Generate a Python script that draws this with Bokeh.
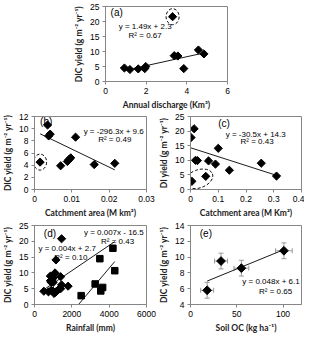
from bokeh.plotting import figure
from bokeh.layouts import column, row
from bokeh.models import Spacer, FixedTicker, Label, Whisker, ColumnDataSource, Range1d, TeeHead
from bokeh.embed import file_html
from bokeh.resources import INLINE

# ---------------- data ----------------
# (a) annual discharge vs DIC yield
a_discharge = [0.93, 1.20, 1.61, 1.93, 1.98, 3.38, 3.56, 3.85, 4.57, 4.84]
a_yield = [4.5, 4.0, 4.2, 4.3, 5.0, 8.6, 8.5, 4.3, 10.5, 9.2]
a_outlier_x = [3.3]
a_outlier_y = [21.6]
a_fit = (1.49, 2.3)
a_text = ["(a)", "y = 1.49x + 2.3", "R² = 0.67"]

# (b) catchment area vs DIC yield
b_area = [0.0035, 0.0038, 0.0042, 0.0070, 0.0088, 0.0092, 0.0097, 0.0110, 0.0160, 0.0215]
b_yield = [10.6, 8.8, 9.1, 3.9, 4.6, 4.9, 5.2, 8.6, 4.1, 4.3]
b_outlier_x = [0.0015]
b_outlier_y = [4.5]
b_fit = (-296.3, 9.6)
b_text = ["(b)", "y = -296.3x + 9.6", "R² = 0.49"]
b_xticks = [0, 0.01, 0.02, 0.03]
b_xlabels = ["0", "0.01", "0.02", "0.03"]

# (c) catchment area vs DI yield
c_area = [0.002, 0.013, 0.018, 0.025, 0.065, 0.09, 0.10, 0.14, 0.255, 0.31]
c_yield = [17.8, 20.8, 10.0, 9.9, 9.8, 8.7, 14.1, 6.6, 9.0, 4.6]
c_circled_x = [0.005, 0.055]
c_circled_y = [2.8, 4.5]
c_fit = (-30.5, 14.3)
c_text = ["(c)", "y = -30.5x + 14.3", "R² = 0.43"]
c_xticks = [0, 0.1, 0.2, 0.3, 0.4]
c_xlabels = ["0", "0.1", "0.2", "0.3", "0.4"]

# (d) rainfall vs DIC yield (two groups)
d1_rain = [500, 750, 850, 850, 900, 900, 950, 1000, 1000, 1000, 1050, 1100, 1100, 1150, 1150, 1300, 1400, 1400, 1450, 1450, 1800]
d1_yield = [4.2, 4.0, 9.0, 7.5, 7.0, 4.5, 8.0, 8.5, 4.2, 7.0, 3.5, 3.8, 10.0, 4.0, 14.1, 4.8, 8.8, 5.0, 6.2, 20.8, 5.8]
d2_rain = [2500, 3250, 3500, 3550, 3650, 4200, 4300]
d2_yield = [2.8, 6.5, 14.5, 4.3, 5.4, 17.8, 10.7]
d1_fit = (0.004, 2.7)
d2_fit = (0.007, -16.5)
d_text = ["(d)", "y = 0.004x + 2.7", "R² = 0.10", "y = 0.007x - 16.5", "R² = 0.43"]

# (e) soil OC vs DIC yield with error bars
e_soc = [18, 33, 55, 101]
e_yield = [5.8, 9.5, 8.6, 10.8]
e_soc_err = [7, 7, 8, 9]
e_yield_err = [1.0, 1.0, 1.0, 1.0]
e_fit = (0.048, 6.1)
e_text = ["(e)", "y = 0.048x + 6.1", "R² = 0.65"]

YLAB = "DIC yield (g m⁻² yr⁻¹)"

# ---------------- helpers ----------------
AX = "#868686"
TICKF = "Liberation Sans"
TITLEF = "Lato"


def make(width, height, xr, yr, xt, yt, xlabel, ylabel, bl, br, bt, bb):
    p = figure(width=width, height=height, x_range=Range1d(*xr), y_range=Range1d(*yr),
               min_border_left=bl, min_border_right=br, min_border_top=bt, min_border_bottom=bb,
               output_backend="svg", toolbar_location=None)
    p.xaxis.ticker = FixedTicker(ticks=xt)
    p.yaxis.ticker = FixedTicker(ticks=yt)
    p.xgrid.visible = False
    p.ygrid.visible = False
    p.xaxis.axis_label = xlabel
    p.yaxis.axis_label = ylabel
    for ax in p.axis:
        ax.axis_line_color = AX
        ax.major_tick_line_color = AX
        ax.minor_tick_line_color = None
        ax.major_tick_out = 3
        ax.major_tick_in = 0
        ax.major_label_text_font = TICKF
        ax.major_label_text_font_size = "8.5px"
        ax.major_label_text_color = "black"
        ax.major_label_standoff = 3
        ax.axis_label_text_font = TITLEF
        ax.axis_label_text_font_style = "bold"
        ax.axis_label_text_font_size = "8.5px"
        ax.axis_label_text_color = "#222222"
        ax.axis_label_standoff = 3
    p.outline_line_color = AX
    p.outline_line_width = 1
    p.background_fill_color = "white"
    p.border_fill_color = "white"
    return p


def trend(p, xs, fit, x_start=None):
    m, c = fit
    x0 = min(xs) if x_start is None else x_start
    x1 = max(xs)
    p.line([x0, x1], [m * x0 + c, m * x1 + c], line_color="black", line_width=0.9)


def lab(p, x, y, t, size="8px", align="center"):
    p.add_layout(Label(x=x, y=y, text=t, text_font=TICKF, text_font_size=size,
                       text_align=align, text_baseline="middle", text_color="black"))


def pts(p, xs, ys, marker="square", size=5.8, angle=0.785398):
    p.scatter(xs, ys, marker=marker, size=size, angle=angle, fill_color="black", line_color="black")


DASH = dict(fill_color=None, line_color="black", line_dash="3 2", line_width=1,
            width_units="screen", height_units="screen")

# ---------------- panel (a) ----------------
pa = make(197, 112, (0, 6), (0, 25), [0, 2, 4, 6], [0, 5, 10, 15, 20, 25],
          "Annual discharge (Km³)", YLAB, 65, 10, 6, 30)
trend(pa, a_discharge, a_fit)
pts(pa, a_discharge, a_yield)
pts(pa, a_outlier_x, a_outlier_y)
pa.ellipse(x=a_outlier_x, y=a_outlier_y, width=13, height=16, **DASH)
lab(pa, 0.25, 23.0, a_text[0], size="10px", align="left")
lab(pa, 1.95, 18.5, a_text[1])
lab(pa, 1.95, 15.3, a_text[2])

# ---------------- panel (b) ----------------
pb = make(156, 108, (0, 0.03), (0, 12), b_xticks, [0, 2, 4, 6, 8, 10, 12],
          "Catchment area (M km²)", YLAB, 29, 10, 4, 24)
pb.xaxis.major_label_overrides = dict(zip(b_xticks, b_xlabels))
trend(pb, b_area + b_outlier_x, b_fit)
pts(pb, b_area, b_yield)
pts(pb, b_outlier_x, b_outlier_y)
pb.ellipse(x=b_outlier_x, y=b_outlier_y, width=13, height=16, **DASH)
lab(pb, 0.0015, 11.2, b_text[0], size="10px", align="left")
lab(pb, 0.0212, 9.6, b_text[1])
lab(pb, 0.0215, 8.2, b_text[2])

# ---------------- panel (c) ----------------
pc = make(148, 108, (0, 0.4), (0, 25), c_xticks, [0, 5, 10, 15, 20, 25],
          "Catchment area (M Km²)", "DI yield (g m⁻² yr⁻¹)", 27, 3, 4, 24)
pc.xaxis.major_label_overrides = dict(zip(c_xticks, c_xlabels))
trend(pc, c_area + c_circled_x, c_fit)
pts(pc, c_area, c_yield)
pts(pc, c_circled_x, c_circled_y)
pc.ellipse(x=[sum(c_circled_x) / 2], y=[sum(c_circled_y) / 2], width=29, height=18, angle=0.35, **DASH)
lab(pc, 0.10, 22.5, c_text[0], size="10px", align="left")
lab(pc, 0.235, 19.0, c_text[1])
lab(pc, 0.24, 16.4, c_text[2])

# ---------------- panel (d) ----------------
pd_ = make(156, 115, (0, 6000), (0, 25), [0, 2000, 4000, 6000], [0, 5, 10, 15, 20, 25],
           "Rainfall (mm)", YLAB, 29, 10, 5, 31)
trend(pd_, d1_rain + d2_rain, d1_fit)
trend(pd_, d2_rain, d2_fit, x_start=-d2_fit[1] / d2_fit[0])
pts(pd_, d1_rain, d1_yield)
pts(pd_, d2_rain, d2_yield, size=6.5, angle=0)
lab(pd_, 500, 22.5, d_text[0], size="10px", align="left")
lab(pd_, 1750, 17.6, d_text[1])
lab(pd_, 1950, 14.8, d_text[2])
lab(pd_, 4250, 22.8, d_text[3])
lab(pd_, 4450, 19.9, d_text[4])

# ---------------- panel (e) ----------------
pe = make(148, 115, (0, 120), (4, 14), [0, 50, 100], [4, 6, 8, 10, 12, 14],
          "Soil OC (kg ha⁻¹)", YLAB, 28, 3, 5, 31)
src = ColumnDataSource(dict(
    x=e_soc, y=e_yield,
    ylo=[v - d for v, d in zip(e_yield, e_yield_err)], yhi=[v + d for v, d in zip(e_yield, e_yield_err)],
    xlo=[v - d for v, d in zip(e_soc, e_soc_err)], xhi=[v + d for v, d in zip(e_soc, e_soc_err)]))
for dim, lo, hi, base in (("height", "ylo", "yhi", "x"), ("width", "xlo", "xhi", "y")):
    w = Whisker(source=src, base=base, lower=lo, upper=hi, dimension=dim, line_color="#9a9a9a", line_width=1,
                upper_head=TeeHead(size=5, line_color="#9a9a9a"), lower_head=TeeHead(size=5, line_color="#9a9a9a"))
    pe.add_layout(w)
trend(pe, e_soc, e_fit)
pts(pe, e_soc, e_yield, size=6.2)
lab(pe, 10, 13.0, e_text[0], size="10px", align="left")
lab(pe, 87, 6.9, e_text[1])
lab(pe, 92, 5.7, e_text[2])

layout = column(row(Spacer(width=40, height=112), pa), row(pb, pc), row(pd_, pe))
open("out.html", "w").write(file_html(layout, INLINE))
